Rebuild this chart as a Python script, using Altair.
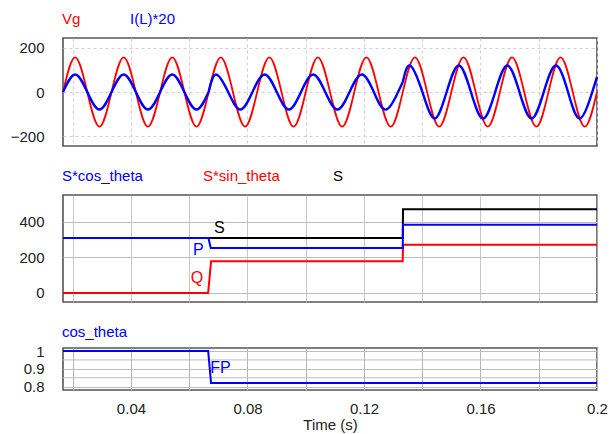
import altair as alt
import pandas as pd

# ---------------- data ----------------
# Panel 1: Vg (peaks / zero crossings), 60 Hz
VG_T = [0.01667, 0.02083, 0.025, 0.02917, 0.03333, 0.0375, 0.04167, 0.04583, 0.05, 0.05417,
        0.05833, 0.0625, 0.06667, 0.07083, 0.075, 0.07917, 0.08333, 0.0875, 0.09167, 0.09583,
        0.1, 0.10417, 0.10833, 0.1125, 0.11667, 0.12083, 0.125, 0.12917, 0.13333, 0.1375,
        0.14167, 0.14583, 0.15, 0.15417, 0.15833, 0.1625, 0.16667, 0.17083, 0.175, 0.17917,
        0.18333, 0.1875, 0.19167, 0.19583, 0.2]
VG_V = [0, 156, 0, -156, 0, 156, 0, -156, 0, 156, 0, -156, 0, 156, 0, -156, 0, 156, 0, -156,
        0, 156, 0, -156, 0, 156, 0, -156, 0, 156, 0, -156, 0, 156, 0, -156, 0, 156, 0, -156,
        0, 156, 0, -156, 0]

# I(L)*20, three segments (in phase / leading / larger amplitude)
IL1_T = [0.01667, 0.02083, 0.025, 0.02917, 0.03333, 0.0375, 0.04167, 0.04583, 0.05, 0.05417,
         0.05833, 0.0625, 0.06667]
IL1_V = [0, 79, 0, -79, 0, 79, 0, -79, 0, 79, 0, -79, 0]
IL2_T = [0.06667, 0.06921, 0.07338, 0.07755, 0.08171, 0.08588, 0.09005, 0.09421, 0.09838,
         0.10255, 0.10671, 0.11088, 0.11505, 0.11921, 0.12338, 0.12755, 0.13171, 0.13333]
IL2_V = [0, 79, 0, -79, 0, 79, 0, -79, 0, 79, 0, -79, 0, 79, 0, -79, 0, 45]
IL3_T = [0.13333, 0.13588, 0.14005, 0.14421, 0.14838, 0.15255, 0.15671, 0.16088, 0.16505,
         0.16921, 0.17338, 0.17755, 0.18171, 0.18588, 0.19005, 0.19421, 0.19838, 0.2]
IL3_V = [45, 119, 0, -119, 0, 119, 0, -119, 0, 119, 0, -119, 0, 119, 0, -119, 0, 68]

# Panel 2: powers
P_T = [0.01667, 0.0666, 0.0674, 0.1333, 0.1334, 0.2]
P_V = [310, 310, 254, 254, 385, 385]
Q_T = [0.01667, 0.0665, 0.0675, 0.1333, 0.1334, 0.2]
Q_V = [0, 0, 178, 178, 272, 272]
S_T = [0.01667, 0.1333, 0.1334, 0.2]
S_V = [310, 310, 472, 472]

# Panel 3: power factor
FP_T = [0.01667, 0.0665, 0.0675, 0.2]
FP_V = [1.0, 1.0, 0.82, 0.82]

NAMES_1 = ["Vg", "I(L)*20"]
NAMES_2 = ["S*cos_theta", "S*sin_theta", "S"]
NAMES_3 = ["cos_theta"]
X_GRID = [0.02, 0.04, 0.06, 0.08, 0.1, 0.12, 0.14, 0.16, 0.18, 0.2]
FP_TICKS = [0.8, 0.9, 1.0]
FP_MINOR = [0.85, 0.95]

# ---------------- styling ----------------
RED = "#ff0000"
BLUE = "#0000ff"
BLACK = "#000000"
FONT = "Liberation Sans"
W = 534
XDOM = [0.016667, 0.2]

xs = alt.Scale(domain=XDOM, nice=False, zero=False)


def x_hidden(dash, color):
    return alt.X("t:Q", scale=xs, title=None,
                 axis=alt.Axis(values=X_GRID, labels=False, ticks=False, domain=False,
                               grid=True, gridDash=dash, gridColor=color, title=None))


def legend(text, color, px, y=-19):
    return alt.Chart(pd.DataFrame({"label": [text]})).mark_text(
        align="left", baseline="middle", font=FONT, fontSize=15, color=color
    ).encode(x=alt.value(px), y=alt.value(y), text="label:N")


# ---- panel 1 ----
vg_df = pd.DataFrame({"t": VG_T, "v": VG_V})
il_df = pd.concat([
    pd.DataFrame({"t": IL1_T, "v": IL1_V, "seg": "a"}),
    pd.DataFrame({"t": IL2_T, "v": IL2_V, "seg": "b"}),
    pd.DataFrame({"t": IL3_T, "v": IL3_V, "seg": "c"}),
])
y1 = alt.Y("v:Q", scale=alt.Scale(domain=[-243, 243], nice=False, zero=False), title=None,
           axis=alt.Axis(values=[-200, -100, 0, 100, 200], ticks=False, domain=False,
                         labelPadding=19, labelOverlap=False, gridDash=[3, 3], gridColor="#cfcfcf"))
vg_line = alt.Chart(vg_df).mark_line(color=RED, strokeWidth=1.8, interpolate="natural").encode(
    x=x_hidden([3, 3], "#cfcfcf"), y=y1)
il_line = alt.Chart(il_df).mark_line(color=BLUE, strokeWidth=2.4, interpolate="natural").encode(
    x=alt.X("t:Q", scale=xs), y=alt.Y("v:Q"), detail="seg:N")
panel1 = alt.layer(
    vg_line, il_line,
    legend(NAMES_1[0], RED, -1), legend(NAMES_1[1], BLUE, 67),
).properties(width=W, height=108)

# ---- panel 2 ----
p_df = pd.DataFrame({"t": P_T, "v": P_V})
q_df = pd.DataFrame({"t": Q_T, "v": Q_V})
s_df = pd.DataFrame({"t": S_T, "v": S_V})
y2 = alt.Y("v:Q", scale=alt.Scale(domain=[-51, 552], nice=False, zero=False), title=None,
           axis=alt.Axis(values=[0, 100, 200, 300, 400, 500], ticks=False, domain=False,
                         labelPadding=19, labelOverlap=False, gridColor="#bdbdbd",
                         labelExpr="datum.value % 200 == 0 ? datum.label : ''"))
s_line = alt.Chart(s_df).mark_line(color=BLACK, strokeWidth=2).encode(
    x=x_hidden([1, 0], "#b5b5b5"), y=y2)
q_line = alt.Chart(q_df).mark_line(color=RED, strokeWidth=2).encode(x=alt.X("t:Q", scale=xs), y="v:Q")
p_line = alt.Chart(p_df).mark_line(color=BLUE, strokeWidth=2).encode(x=alt.X("t:Q", scale=xs), y="v:Q")


def annot(t, v, text, color):
    return alt.Chart(pd.DataFrame({"t": [t], "v": [v], "label": [text]})).mark_text(
        align="center", baseline="middle", font=FONT, fontSize=16, color=color
    ).encode(x=alt.X("t:Q", scale=xs), y="v:Q", text="label:N")


panel2 = alt.layer(
    s_line, q_line, p_line,
    annot(0.0703, 365, "S", BLACK), annot(0.0631, 240, "P", BLUE), annot(0.0627, 82, "Q", RED),
    legend(NAMES_2[0], BLUE, -1), legend(NAMES_2[1], RED, 140), legend(NAMES_2[2], BLACK, 270),
).properties(width=W, height=107)

# ---- panel 3 ----
fp_df = pd.DataFrame({"t": FP_T, "v": FP_V})
ys3 = alt.Scale(domain=[0.781, 1.017], nice=False, zero=False)
ax3 = alt.Axis(values=FP_TICKS, ticks=False, domain=False, format="~g",
               labelPadding=19, labelOverlap=False, labelFlush=False, labelSeparation=0,
               gridColor="#bdbdbd")
y3 = alt.Y("v:Q", scale=ys3, title=None, axis=ax3)
x3 = alt.X("t:Q", scale=xs, title="Time (s)",
           axis=alt.Axis(values=X_GRID, ticks=False, domain=False, grid=True, format="~g",
                         gridColor="#b5b5b5",
                         labelPadding=11, labelFlush=False, labelOverlap=False, titlePadding=1,
                         labelExpr="round(datum.value * 100) % 4 == 0 ? datum.label : ''"))
minor_rules = alt.Chart(pd.DataFrame({"v": FP_MINOR})).mark_rule(
    color="#bdbdbd", strokeWidth=1
).encode(y=y3)
fp_line = alt.Chart(fp_df).mark_line(color=BLUE, strokeWidth=2).encode(x=x3, y=y3)
fp_text = alt.Chart(pd.DataFrame({"t": [0.0672], "v": [0.905], "label": ["FP"]})).mark_text(
    align="left", baseline="middle", font=FONT, fontSize=16, color=BLUE
).encode(x=x3, y=y3, text="label:N")
panel3 = alt.layer(
    minor_rules, fp_line, fp_text, legend(NAMES_3[0], BLUE, -1, y=-16),
).properties(width=W, height=42)

chart = alt.vconcat(panel1, panel2, panel3, spacing=21).properties(
    padding={"left": 9, "top": 11, "right": 0, "bottom": 0},
    background="white",
).configure_view(
    stroke="#555555", strokeWidth=1.6
).configure_axis(
    labelFont=FONT, labelFontSize=15, labelColor="#222222", labelOverlap=False,
    titleFont=FONT, titleFontSize=15, titleFontWeight="normal", titleColor="#222222",
    gridWidth=1, gridOpacity=1
)

chart.save("out.html", embed_options={"renderer": "svg", "actions": False})
